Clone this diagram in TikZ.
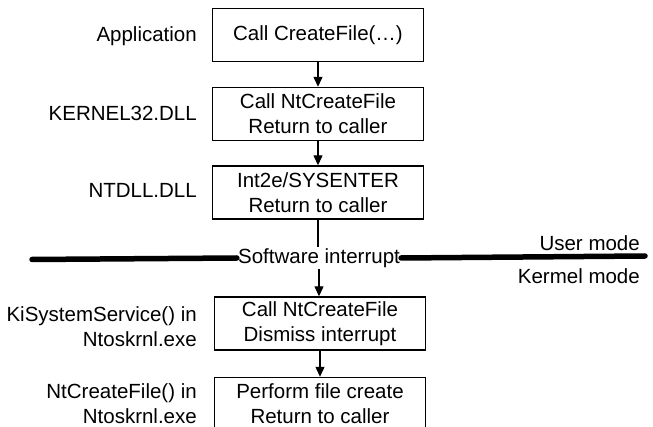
\documentclass[tikz,border=0pt]{standalone}
\usepackage{fontspec}
\setmainfont{Liberation Sans}
\usetikzlibrary{arrows.meta}
\begin{document}
\begin{tikzpicture}[x=1pt,y=-1pt,
  every node/.style={font=\fontsize{20.5}{25}\selectfont},
  callbox/.style={draw,line width=1.4pt,minimum width=211pt,minimum height=53pt,align=center,inner sep=0pt},
  lbl/.style={anchor=east,align=right,inner sep=0pt},
  mode/.style={anchor=east,inner sep=0pt},
  flow/.style={line width=1.2pt,-{Triangle[length=10pt,width=9pt]}},
  divider/.style={line width=5.5pt,line cap=round}]
  \useasboundingbox (0,0) rectangle (653,427);
  \clip (0,0) rectangle (653,427);

  % call chain boxes
  \node[callbox] (app) at (318,35) {Call CreateFile(\dots)};
  \node[callbox] (k32) at (318,114) {Call NtCreateFile\\Return to caller};
  \node[callbox] (ntdll) at (318,192.5) {Int2e/SYSENTER\\Return to caller};
  \node[callbox] (kiss) at (320,323.5) {Call NtCreateFile\\Dismiss interrupt};
  \node[callbox] (ntcf) at (320,404) {Perform file create\\Return to caller};

  % layer labels
  \node[lbl] (lapp) at (197,36) {Application};
  \node[lbl] (lk32) at (197,113) {KERNEL32.DLL};
  \node[lbl] (lntdll) at (197,190) {NTDLL.DLL};
  \node[lbl] (lkiss) at (197,327) {KiSystemService() in\\Ntoskrnl.exe};
  \node[lbl] (lntcf) at (197,404) {NtCreateFile() in\\Ntoskrnl.exe};

  % user/kernel boundary
  \node[inner sep=1pt] (swi) at (319,258) {Software interrupt};
  \coordinate (bl) at (32,259.5);
  \coordinate (br) at (645,256);
  \draw[divider] (bl) -- (swi.west);
  \draw[divider] (swi.east) -- (br);
  \node[mode] (um) at (640,243) {User mode};
  \node[mode] (km) at (640,276) {Kermel mode};

  % connectors
  \draw[flow] (app.south -| 318,0) -- (k32.north -| 318,0);
  \draw[flow] (k32.south -| 318,0) -- (ntdll.north -| 318,0);
  \draw[line width=1.2pt] (ntdll.south -| 318,0) -- (swi.north -| 318,0);
  \draw[flow] (swi.south -| 319,0) -- (kiss.north -| 319,0);
  \draw[flow] (kiss.south -| 320,0) -- (ntcf.north -| 320,0);
\end{tikzpicture}
\end{document}
